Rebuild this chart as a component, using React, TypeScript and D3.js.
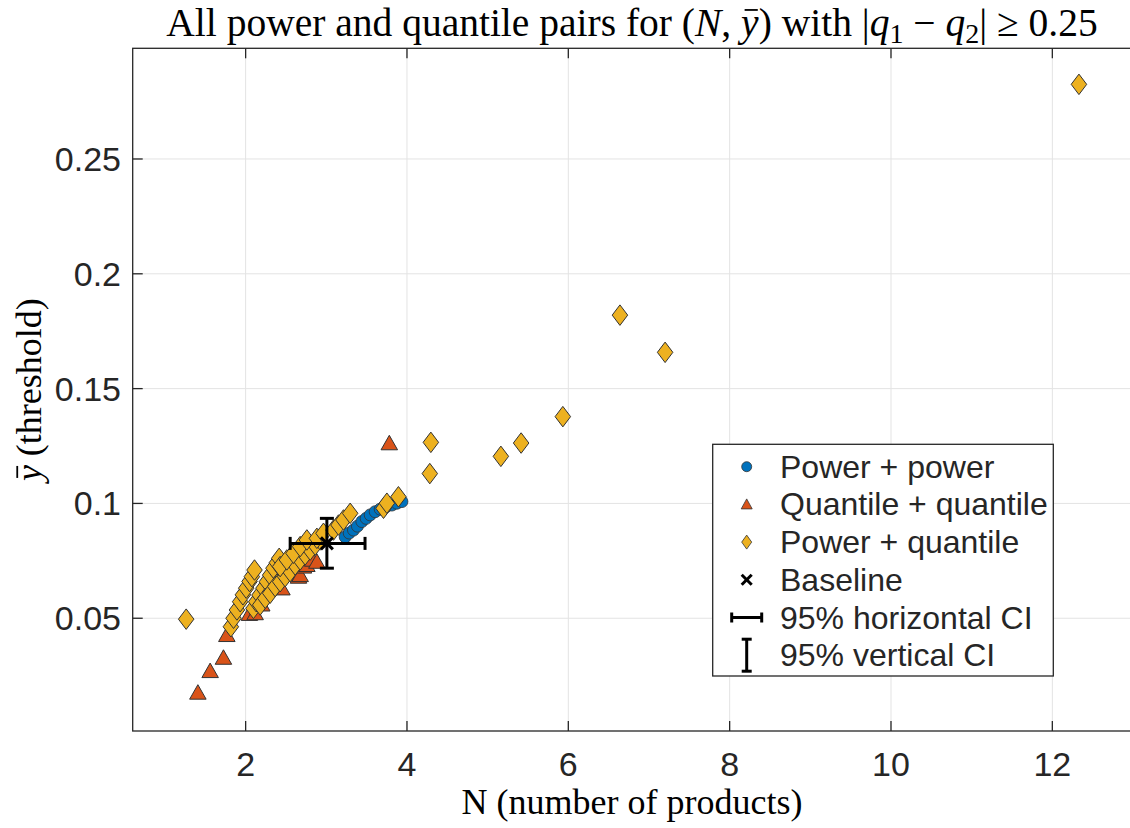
import * as d3 from "d3";
import { useLayoutEffect, useRef, useState } from "react";

// Power + power (blue circles)
const ppN = [3.234, 3.284, 3.337, 3.386, 3.441, 3.494, 3.544, 3.606, 3.668, 3.742, 3.813, 3.875, 3.937];
const ppY = [0.0854, 0.0871, 0.0884, 0.0901, 0.0921, 0.0935, 0.095, 0.0964, 0.0975, 0.0986, 0.0993, 0.1001, 0.1008];

// Quantile + quantile (red triangles)
const qqN = [1.408, 1.56, 1.725, 1.767, 2.047, 2.118, 2.2, 2.45, 2.655, 2.676, 2.717, 2.759, 2.83, 2.883, 3.781];
const qqY = [0.0176, 0.027, 0.0328, 0.0427, 0.0519, 0.0522, 0.056, 0.063, 0.0681, 0.0688, 0.0725, 0.0732, 0.0755, 0.0746, 0.1262];

// Power + quantile (yellow diamonds)
const pqN = [
  1.263,
  1.817, 1.85, 1.892, 1.932, 1.966, 2.007, 2.048, 2.077, 2.11,
  2.097, 2.131, 2.172, 2.221, 2.263, 2.304, 2.345, 2.387, 2.416,
  2.18, 2.243, 2.304, 2.366, 2.428, 2.49, 2.552, 2.614, 2.676, 2.738, 2.8, 2.862, 2.924,
  2.428, 2.511, 2.593, 2.676, 2.759, 2.883, 2.965, 3.089, 3.151, 3.213, 3.296, 3.709, 3.751,
  3.894, 4.283, 4.296, 5.164, 5.415, 5.932, 6.64, 7.2, 12.33,
];
const pqY = [
  0.0496,
  0.0463, 0.05, 0.0536, 0.0572, 0.0602, 0.0631, 0.066, 0.0681, 0.071,
  0.0543, 0.0572, 0.0601, 0.0631, 0.0659, 0.0688, 0.0718, 0.0742, 0.0761,
  0.0558, 0.0587, 0.0609, 0.0638, 0.0659, 0.0681, 0.0703, 0.0732, 0.0754, 0.0776, 0.0797, 0.0819, 0.0841,
  0.0725, 0.0754, 0.0783, 0.0812, 0.0841, 0.0848, 0.087, 0.0884, 0.0906, 0.0928, 0.0957, 0.0979, 0.1001,
  0.1029, 0.113, 0.1266, 0.1205, 0.1263, 0.1378, 0.182, 0.1658, 0.2825,
];

// Baseline and its confidence intervals
const baseN = 3.007;
const baseY = 0.0826;
const ciN = [2.552, 3.48];
const ciY = [0.0718, 0.0935];

const xTicks = [2, 4, 6, 8, 10, 12];
const yTicks = [0.05, 0.1, 0.15, 0.2, 0.25];
const yTickLabels = ["0.05", "0.1", "0.15", "0.2", "0.25"];
const legendLabels = [
  "Power + power",
  "Quantile + quantile",
  "Power + quantile",
  "Baseline",
  "95% horizontal CI",
  "95% vertical CI",
];

const W = 1130;
const H = 828;
const left = 132.7, right = 1133, top = 48.3, bottom = 731;
const axisColor = "#262626";
const sans = "'Liberation Sans', Arial, sans-serif";
const serif = "'Liberation Serif', 'Times New Roman', serif";

const blue = "#0072BD";
const red = "#D95319";
const yellow = "#EDB120";
const edge = "#333333";

const diamond = (w: number, h: number) => `M0,${-h / 2}L${w / 2},0L0,${h / 2}L${-w / 2},0Z`;
const triangle = (w: number, h: number) => `M0,${-h * 0.55}L${w / 2},${h * 0.45}L${-w / 2},${h * 0.45}Z`;

type Bar = { x1: number; x2: number; y: number } | null;

// bar over an italic "y" found at char index idx of a text element
function barOver(t: SVGTextElement | null, idx: number, fs: number): Bar {
  if (!t || idx < 0) return null;
  const e = t.getExtentOfChar(idx);
  const base = e.y + e.height * 0.8; // rough baseline
  return { x1: e.x + e.width * 0.2, x2: e.x + e.width * 0.95, y: base - fs * 0.66 };
}

export default function App() {
  const x = d3.scaleLinear().domain([0.6, 13]).range([left, right]);
  const y = d3.scaleLinear().domain([0.0009, 0.2982]).range([bottom, top]);

  const titleRef = useRef<SVGTextElement>(null);
  const ylabRef = useRef<SVGTextElement>(null);
  const [tBar, setTBar] = useState<Bar>(null);
  const [yBar, setYBar] = useState<Bar>(null);

  useLayoutEffect(() => {
    const t = titleRef.current;
    if (t) setTBar(barOver(t, (t.textContent || "").indexOf("(N, y") + 4, 39));
    setYBar(barOver(ylabRef.current, 0, 36));
  }, []);

  const legX = 712.7, legY = 444.3, legW = 340.6, legH = 231.7;
  const rowY = (i: number) => 466.7 + i * 37.7;
  const mx = 746.7;

  return (
    <svg width={W} height={H} style={{ position: "absolute", left: 0, top: 0, background: "#fff" }}>
      <rect x={0} y={0} width={W} height={H} fill="#fff" />
      {/* grid */}
      {xTicks.map((t) => (
        <line key={"gx" + t} x1={x(t)} x2={x(t)} y1={top} y2={bottom} stroke="#e3e3e3" strokeWidth={1} />
      ))}
      {yTicks.map((t) => (
        <line key={"gy" + t} x1={left} x2={right} y1={y(t)} y2={y(t)} stroke="#e3e3e3" strokeWidth={1} />
      ))}

      {/* series */}
      {ppN.map((n, i) => (
        <circle key={"pp" + i} cx={x(n)} cy={y(ppY[i])} r={6} fill={blue} stroke={edge} strokeWidth={0.8} />
      ))}
      {qqN.map((n, i) => (
        <path key={"qq" + i} d={triangle(16.5, 14.5)} transform={`translate(${x(n)},${y(qqY[i])})`} fill={red} stroke={edge} strokeWidth={1} />
      ))}
      {pqN.map((n, i) => (
        <path key={"pq" + i} d={diamond(15.5, 20.5)} transform={`translate(${x(n)},${y(pqY[i])})`} fill={yellow} stroke={edge} strokeWidth={1} />
      ))}

      {/* baseline + CIs */}
      <g stroke="#000" strokeWidth={3} fill="none">
        <line x1={x(ciN[0])} x2={x(ciN[1])} y1={y(baseY)} y2={y(baseY)} />
        <line x1={x(ciN[0])} x2={x(ciN[0])} y1={y(baseY) - 6.5} y2={y(baseY) + 6.5} />
        <line x1={x(ciN[1])} x2={x(ciN[1])} y1={y(baseY) - 6.5} y2={y(baseY) + 6.5} />
        <line x1={x(baseN)} x2={x(baseN)} y1={y(ciY[0])} y2={y(ciY[1])} />
        <line x1={x(baseN) - 7} x2={x(baseN) + 7} y1={y(ciY[0])} y2={y(ciY[0])} />
        <line x1={x(baseN) - 7} x2={x(baseN) + 7} y1={y(ciY[1])} y2={y(ciY[1])} />
        <line x1={x(baseN) - 6} x2={x(baseN) + 6} y1={y(baseY) - 6} y2={y(baseY) + 6} />
        <line x1={x(baseN) - 6} x2={x(baseN) + 6} y1={y(baseY) + 6} y2={y(baseY) - 6} />
      </g>

      {/* axes box */}
      <rect x={left} y={top} width={right - left} height={bottom - top} fill="none" stroke={axisColor} strokeWidth={1.3} />
      {xTicks.map((t) => (
        <g key={"tx" + t}>
          <line x1={x(t)} x2={x(t)} y1={bottom} y2={bottom - 10} stroke={axisColor} strokeWidth={1.3} />
          <line x1={x(t)} x2={x(t)} y1={top} y2={top + 10} stroke={axisColor} strokeWidth={1.3} />
          <text x={x(t)} y={776} textAnchor="middle" fontFamily={sans} fontSize={34} fill={axisColor}>
            {t}
          </text>
        </g>
      ))}
      {yTicks.map((t, i) => (
        <g key={"ty" + t}>
          <line x1={left} x2={left + 10} y1={y(t)} y2={y(t)} stroke={axisColor} strokeWidth={1.3} />
          <text x={121} y={y(t) + 12} textAnchor="end" fontFamily={sans} fontSize={34} fill={axisColor}>
            {yTickLabels[i]}
          </text>
        </g>
      ))}

      {/* title */}
      <text ref={titleRef} x={632} y={35.5} textAnchor="middle" fontFamily={serif} fontSize={39.5} fill="#000">
        {"All power and quantile pairs for ("}
        <tspan fontStyle="italic">N</tspan>
        {", "}
        <tspan fontStyle="italic">y</tspan>
        {") with |"}
        <tspan fontStyle="italic">q</tspan>
        <tspan dy={7} fontSize={28}>1</tspan>
        <tspan dy={-7}>{" \u2212 "}</tspan>
        <tspan fontStyle="italic">q</tspan>
        <tspan dy={7} fontSize={28}>2</tspan>
        <tspan dy={-7}>{"| \u2265 0.25"}</tspan>
      </text>
      {tBar && <line x1={tBar.x1} x2={tBar.x2} y1={tBar.y} y2={tBar.y} stroke="#000" strokeWidth={1.8} />}

      {/* x label */}
      <text x={632} y={814} textAnchor="middle" fontFamily={serif} fontSize={36} fill="#000">
        N (number of products)
      </text>

      {/* y label */}
      <g transform={`translate(41,${(top + bottom) / 2}) rotate(-90)`}>
        <text ref={ylabRef} x={0} y={0} textAnchor="middle" fontFamily={serif} fontSize={36} fill="#000">
          <tspan fontStyle="italic">y</tspan>
          {" (threshold)"}
        </text>
        {yBar && <line x1={yBar.x1} x2={yBar.x2} y1={yBar.y} y2={yBar.y} stroke="#000" strokeWidth={1.8} />}
      </g>

      {/* legend */}
      <rect x={legX} y={legY} width={legW} height={legH} fill="#fff" stroke={axisColor} strokeWidth={1.3} />
      <circle cx={mx} cy={rowY(0)} r={5} fill={blue} stroke={edge} strokeWidth={0.8} />
      <path d={triangle(11, 10)} transform={`translate(${mx},${rowY(1)})`} fill={red} stroke={edge} strokeWidth={0.8} />
      <path d={diamond(10, 14)} transform={`translate(${mx},${rowY(2)})`} fill={yellow} stroke={edge} strokeWidth={0.8} />
      <g stroke="#000" strokeWidth={3}>
        <line x1={mx - 5} x2={mx + 5} y1={rowY(3) - 5} y2={rowY(3) + 5} />
        <line x1={mx - 5} x2={mx + 5} y1={rowY(3) + 5} y2={rowY(3) - 5} />
        <line x1={mx - 15} x2={mx + 15} y1={rowY(4)} y2={rowY(4)} />
        <line x1={mx - 15} x2={mx - 15} y1={rowY(4) - 5} y2={rowY(4) + 5} />
        <line x1={mx + 15} x2={mx + 15} y1={rowY(4) - 5} y2={rowY(4) + 5} />
        <line x1={mx} x2={mx} y1={rowY(5) - 16} y2={rowY(5) + 16} />
        <line x1={mx - 5} x2={mx + 5} y1={rowY(5) - 16} y2={rowY(5) - 16} />
        <line x1={mx - 5} x2={mx + 5} y1={rowY(5) + 16} y2={rowY(5) + 16} />
      </g>
      {legendLabels.map((l, i) => (
        <text key={l} x={780} y={rowY(i) + 11} fontFamily={sans} fontSize={32} fill={axisColor}>
          {l}
        </text>
      ))}
    </svg>
  );
}
